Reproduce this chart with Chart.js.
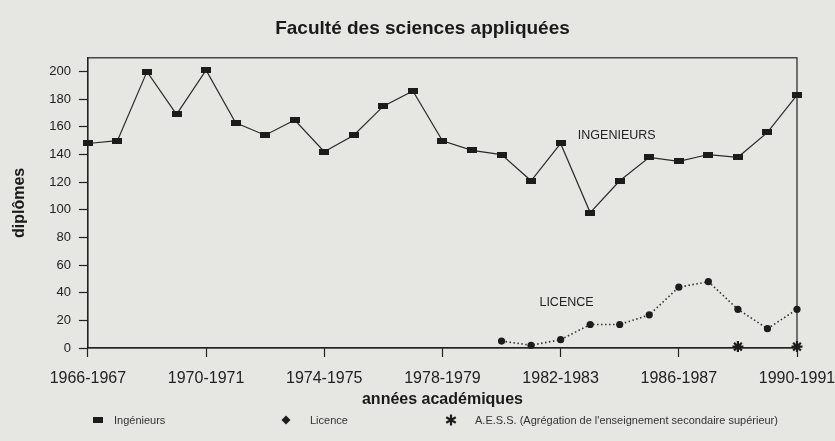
<!DOCTYPE html>
<html lang="fr">
<head>
<meta charset="utf-8">
<script src="https://cdn.jsdelivr.net/npm/chart.js@4.4.1/dist/chart.umd.min.js"></script>
<style>
html,body{margin:0;padding:0;background:#e6e6e3;}
#wrap{position:relative;width:835px;height:441px;overflow:hidden;}
#legende{position:absolute;left:0;top:414px;width:835px;height:18px;font:11px "Liberation Sans",Arial,sans-serif;color:#333;}
#legende canvas,#legende span{position:absolute;top:0;}
#legende span{line-height:12px;}
</style>
</head>
<body>
<div id="wrap">
<canvas id="grafico" width="835" height="441"></canvas>
<div id="legende"></div>
</div>
<script>
const categories=["1966-1967","1967-1968","1968-1969","1969-1970","1970-1971","1971-1972","1972-1973","1973-1974","1974-1975","1975-1976","1976-1977","1977-1978","1978-1979","1979-1980","1980-1981","1981-1982","1982-1983","1983-1984","1984-1985","1985-1986","1986-1987","1987-1988","1988-1989","1989-1990","1990-1991"]
let ingenieurs=[148,150,200,169,201,163,154,165,142,154,175,186,150,143,140,121,148,98,121,138,135,140,138,156,183]
let licence=[null,null,null,null,null,null,null,null,null,null,null,null,null,null,5,2,6,17,17,24,44,48,28,14,28]
let aess=[null,null,null,null,null,null,null,null,null,null,null,null,null,null,null,null,null,null,null,null,null,null,1,null,1]
const yTicks=[0,20,40,60,80,100,120,140,160,180,200]
const xTickEvery=4

// etiquettes dans le graphique (en coordonnees de donnees)
const annotations=[
  {text:"INGENIEURS",x:17.9,y:154},
  {text:"LICENCE",x:16.2,y:33}
]

const encre='#222'
Chart.defaults.font.family='"Liberation Sans", Arial, sans-serif'
Chart.defaults.color=encre

// marqueur rectangulaire des ingenieurs
const rectMark=document.createElement('canvas')
rectMark.width=10; rectMark.height=6
const rc=rectMark.getContext('2d')
rc.fillStyle='#1c1c1c'; rc.fillRect(0,0,10,6)

const cadre={
  id:'cadre',
  beforeDatasetsDraw(chart){
    const {ctx,chartArea:a}=chart
    ctx.save()
    ctx.strokeStyle=encre; ctx.lineWidth=1.2
    ctx.strokeRect(a.left,a.top,a.right-a.left,a.bottom-a.top)
    ctx.restore()
  },
  afterDatasetsDraw(chart){
    const {ctx,scales}=chart
    ctx.save()
    ctx.fillStyle=encre
    ctx.font='12.5px "Liberation Sans", Arial, sans-serif'
    ctx.textAlign='center'; ctx.textBaseline='middle'
    annotations.forEach(a=>{
      ctx.fillText(a.text,scales.x.getPixelForValue(a.x),scales.y.getPixelForValue(a.y))
    })
    ctx.restore()
  }
}

const ctx=document.getElementById('grafico')
let grafico=new Chart(ctx,{
  type:'line',
  data:{
    labels:categories,
    datasets:[{
      label:'Ingénieurs',
      data:ingenieurs,
      borderColor:'#2a2a2a',
      borderWidth:1.2,
      pointStyle:rectMark,
      backgroundColor:'#1c1c1c',
      tension:0,
      clip:false
    },{
      label:'Licence',
      data:licence,
      borderColor:'#333',
      borderWidth:1.6,
      borderDash:[1.5,2.5],
      pointStyle:'circle',
      pointRadius:3.6,
      pointBackgroundColor:'#1c1c1c',
      pointBorderColor:'#1c1c1c',
      pointBorderWidth:0,
      backgroundColor:'#1c1c1c',
      tension:0,
      clip:false
    },{
      label:"A.E.S.S. (Agrégation de l'enseignement secondaire supérieur)",
      data:aess,
      showLine:false,
      pointStyle:'star',
      pointRadius:5.5,
      pointBorderWidth:2.2,
      pointBorderColor:'#1c1c1c',
      backgroundColor:'#1c1c1c',
      clip:false
    }]
  },
  options:{
    responsive:false,
    animation:false,
    layout:{padding:{left:10,right:0,top:0,bottom:32}},
    plugins:{
      legend:{display:false},
      tooltip:{enabled:false},
      title:{
        display:true,
        text:'Faculté des sciences appliquées',
        font:{size:19,weight:'bold'},
        color:'#1a1a1a',
        padding:{top:17,bottom:18}
      }
    },
    scales:{
      x:{
        afterFit:s=>{ s.paddingRight=38; s.height=61 },
        ticks:{
          autoSkip:false,maxRotation:0,
          callback:(v,i)=> i%xTickEvery===0 ? categories[i] : '',
          font:{size:16},color:encre,padding:12
        },
        grid:{drawOnChartArea:false,tickLength:9,tickWidth:1.2,
          tickColor:c=> c.index%xTickEvery===0 ? encre : 'rgba(0,0,0,0)'},
        border:{display:true,color:encre,width:1.2},
        title:{display:true,text:'années académiques',font:{size:16,weight:'bold'},color:'#1a1a1a',padding:{top:0,bottom:0}}
      },
      y:{
        min:0,max:210,
        ticks:{stepSize:10,callback:v=> yTicks.includes(v) ? v : '',font:{size:13},color:encre,padding:8},
        grid:{drawOnChartArea:false,tickLength:9,tickWidth:1.2,tickColor:encre},
        border:{display:true,color:encre,width:1.2},
        title:{display:true,text:'diplômes',font:{size:16,weight:'bold'},color:'#1a1a1a',padding:{top:0,bottom:12}}
      }
    }
  },
  plugins:[cadre]
})

// legende en HTML, construite depuis les jeux de donnees
const legendMark=[98,286,451]
const legendText=[114,310,475]
const legende=document.getElementById('legende')
const items=grafico.options.plugins.legend.labels.generateLabels(grafico)
items.forEach((it,i)=>{
  const c=document.createElement('canvas')
  c.width=12; c.height=12
  c.style.left=(legendMark[i]-6)+'px'
  const g=c.getContext('2d')
  g.fillStyle='#1c1c1c'; g.strokeStyle='#1c1c1c'
  if(i===0){ g.fillRect(1,3,10,6) }
  else if(i===1){ g.beginPath(); g.moveTo(6,1.5); g.lineTo(10.5,6); g.lineTo(6,10.5); g.lineTo(1.5,6); g.closePath(); g.fill() }
  else { g.lineWidth=2.2; g.beginPath()
    for(let k=0;k<3;k++){ const an=k*Math.PI/3+Math.PI/2; g.moveTo(6+5.5*Math.cos(an),6+5.5*Math.sin(an)); g.lineTo(6-5.5*Math.cos(an),6-5.5*Math.sin(an)) }
    g.stroke() }
  legende.appendChild(c)
  const s=document.createElement('span')
  s.textContent=it.text
  s.style.left=legendText[i]+'px'
  legende.appendChild(s)
})
</script>
</body>
</html>
